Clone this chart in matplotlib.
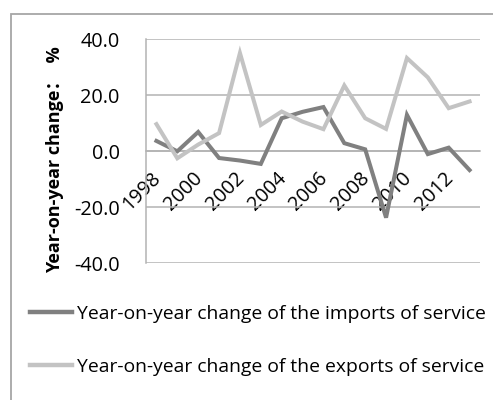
import matplotlib
matplotlib.use("Agg")
import matplotlib.pyplot as plt
from matplotlib.patches import Rectangle
from matplotlib.transforms import ScaledTranslation

years = [str(y) for y in range(1998, 2014)]
imports = [3.7, 0.0, 6.9, -2.4, -3.3, -4.5, 11.8, 14.1, 15.8, 2.9, 0.7, -23.7, 13.0, -1.0, 1.3, -6.7]
exports = [9.7, -2.5, 2.4, 6.5, 35.1, 9.4, 14.2, 10.6, 7.9, 23.5, 11.8, 8.0, 33.3, 26.4, 15.4, 17.8]
series_names = ["Year-on-year change of the imports of service",
                "Year-on-year change of the exports of service"]
y_ticks = [-40, -20, 0, 20, 40]
y_label = "Year-on-year change：  %"

FONT = ["Open Sans", "Noto Sans CJK SC", "DejaVu Sans"]
plt.rcParams["font.family"] = FONT

W, H = 493, 400
fig = plt.figure(figsize=(W / 100, H / 100), dpi=100)
fig.patch.set_facecolor("white")

# outer chart border (extends beyond the cropped image)
fig.patches.append(Rectangle((11 / W, -0.2), 1.5, 1.2 - 14 / H,
                             transform=fig.transFigure, fill=False,
                             edgecolor="#a6a6a6", lw=1.3))

ax = fig.add_axes([146 / W, 1 - 263.3 / H, 334 / W, 224 / H])
x = list(range(len(years)))
grid_c = "#b3b3b3"
ax.plot(x, imports, color="#808080", lw=2.9, solid_joinstyle="miter", label=series_names[0], zorder=3)
ax.plot(x, exports, color="#c3c3c3", lw=2.9, solid_joinstyle="miter", label=series_names[1], zorder=3)

ax.set_xlim(-0.5, len(years) - 0.5)
ax.set_ylim(-40, 40)
ax.set_yticks(y_ticks)
ax.set_yticklabels([f"{v:.1f}" for v in y_ticks])
ax.yaxis.grid(True, color=grid_c, lw=1.1)
ax.set_axisbelow(True)
for s in ["top", "right"]:
    ax.spines[s].set_visible(False)
ax.spines["left"].set_color(grid_c)
ax.spines["left"].set_linewidth(1.1)
ax.spines["bottom"].set_position(("data", 0))
ax.spines["bottom"].set_color(grid_c)
ax.spines["bottom"].set_linewidth(1.1)

ax.set_xticks(x[::2])
ax.set_xticklabels(years[::2])
ax.tick_params(axis="both", length=0, labelsize=14.3, colors="black")
ax.tick_params(axis="y", pad=19)
ax.tick_params(axis="x", pad=17.5)
off = ScaledTranslation(1.5 / 100, 0, fig.dpi_scale_trans)
for lab in ax.get_xticklabels():
    lab.set_rotation(45)
    lab.set_ha("right")
    lab.set_va("center")
    lab.set_rotation_mode("anchor")
    lab.set_transform(lab.get_transform() + off)

fig.text(55 / W, 1 - 160 / H, y_label, rotation=90, ha="center", va="center",
         fontsize=13, fontweight="bold", family=FONT)

leg = fig.legend(loc="upper left", bbox_to_anchor=(30 / W, 1 - 305 / H),
                 frameon=False, fontsize=13.9, handlelength=2.17,
                 handletextpad=0.26, labelspacing=1.8, borderaxespad=0,
                 borderpad=0)
for l in leg.get_lines():
    l.set_linewidth(3.2)

fig.savefig("out.png", dpi=100, facecolor="white")
